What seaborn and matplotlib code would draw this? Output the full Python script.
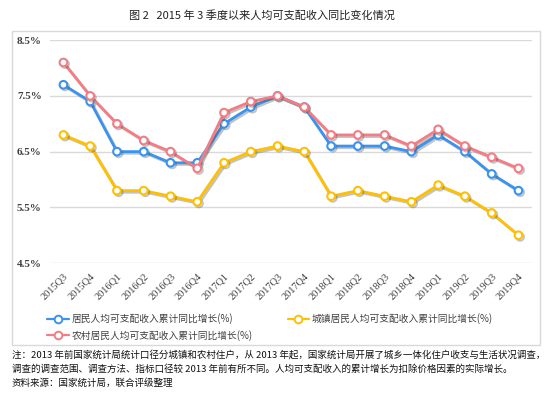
import pandas as pd
import matplotlib
matplotlib.use("Agg")
import matplotlib.pyplot as plt
import matplotlib.patheffects as pe
from matplotlib.patches import Rectangle
from matplotlib.lines import Line2D
import seaborn as sns

# Data
quarters = ["2015Q3", "2015Q4", "2016Q1", "2016Q2", "2016Q3", "2016Q4",
            "2017Q1", "2017Q2", "2017Q3", "2017Q4", "2018Q1", "2018Q2",
            "2018Q3", "2018Q4", "2019Q1", "2019Q2", "2019Q3", "2019Q4"]
resident = [7.7, 7.4, 6.5, 6.5, 6.3, 6.3, 7.0, 7.3, 7.5, 7.3, 6.6, 6.6,
            6.6, 6.5, 6.8, 6.5, 6.1, 5.8]
urban = [6.8, 6.6, 5.8, 5.8, 5.7, 5.6, 6.3, 6.5, 6.6, 6.5, 5.7, 5.8,
         5.7, 5.6, 5.9, 5.7, 5.4, 5.0]
rural = [8.1, 7.5, 7.0, 6.7, 6.5, 6.2, 7.2, 7.4, 7.5, 7.3, 6.8, 6.8,
         6.8, 6.6, 6.9, 6.6, 6.4, 6.2]

series_names = ["居民人均可支配收入累计同比增长(%)",
                "农村居民人均可支配收入累计同比增长(%)",
                "城镇居民人均可支配收入累计同比增长(%)"]
series_values = [resident, rural, urban]
colors = ["#3A93EE", "#F47C84", "#FFC000"]

sns.set_theme(style="white")
plt.rcParams['font.family'] = ['Noto Sans CJK SC', 'DejaVu Sans']

df = pd.DataFrame({"x": range(len(quarters))})

fig = plt.figure(figsize=(5.5, 3.98), dpi=100)
ax = fig.add_axes([0.091, 0.339, 0.876, 0.560])

# draw in back-to-front order so blue sits on top like the reference
shadow = [pe.SimpleLineShadow(offset=(1.2, -1.2), alpha=0.35, shadow_color="#555555"), pe.Normal()]
for name, vals, col, z in zip(series_names, series_values, colors, [3, 4, 2]):
    df[name] = vals
    sns.lineplot(data=df, x="x", y=name, ax=ax, color=col, linewidth=2.0,
                 marker="o", markersize=5.5, markerfacecolor="white",
                 markeredgecolor=col, markeredgewidth=1.5,
                 zorder=z, path_effects=shadow)

ax.set_xlim(-0.5, len(quarters) - 0.5)
ax.set_ylim(4.5, 8.5)
ax.set_yticks([4.5, 5.5, 6.5, 7.5, 8.5])
ax.set_yticklabels([f"{v:.1f}%" for v in [4.5, 5.5, 6.5, 7.5, 8.5]],
                   family="Liberation Serif", fontweight="bold",
                   fontsize=8, color="#404040")
ax.set_xticks(range(len(quarters)))
ax.set_xticklabels(quarters, rotation=45, ha="right", rotation_mode="anchor",
                   family="Liberation Serif", fontsize=7.5, color="#404040")
ax.tick_params(axis="both", length=0, pad=6)
ax.set_xlabel("")
ax.set_ylabel("")
ax.grid(axis="y", color="#D9D9D9", linewidth=1)
ax.set_axisbelow(True)
for s in ax.spines.values():
    s.set_visible(False)

handles = [Line2D([], [], color=c, linewidth=1.6, marker="o", markersize=5.5,
                  markerfacecolor="white", markeredgecolor=c, markeredgewidth=1.4)
           for c in colors]
fig.legend(handles, series_names, ncol=2, loc="upper left",
           bbox_to_anchor=(0.07, 0.235), frameon=False, fontsize=7,
           handlelength=2.2, handletextpad=0.3, columnspacing=3.6,
           labelspacing=0.6, labelcolor="#404040")

# outer frame around the chart
fig.patches.append(Rectangle((12 / 550, 1 - 345 / 398), 528 / 550, 314 / 398,
                             transform=fig.transFigure, fill=False,
                             edgecolor="#D9D9D9", linewidth=1))

fig.text(0.477, 1 - 15 / 398, "图 2   2015 年 3 季度以来人均可支配收入同比变化情况",
         ha="center", va="center", fontsize=8, color="#222222")

notes = ["注：2013 年前国家统计局统计口径分城镇和农村住户，从 2013 年起，国家统计局开展了城乡一体化住户收支与生活状况调查，",
         "调查的调查范围、调查方法、指标口径较 2013 年前有所不同。人均可支配收入的累计增长为扣除价格因素的实际增长。",
         "资料来源：国家统计局，联合评级整理"]
for i, line in enumerate(notes):
    fig.text(12 / 550, 1 - (355 + 14 * i) / 398, line, ha="left", va="center",
             fontsize=6.85, color="#111111")

fig.savefig("out.png", dpi=100)
